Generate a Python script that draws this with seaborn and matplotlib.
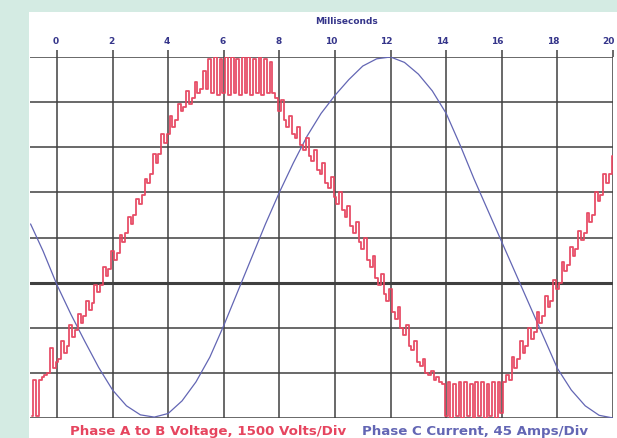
"""
plot.py - scope capture: phase A-B voltage (PWM, red) and phase C current (blue).
"""

import matplotlib
matplotlib.use("Agg")
import matplotlib.pyplot as plt
import matplotlib.transforms as mtransforms
import pandas as pd
import seaborn as sns

# ── Data (time in ms, amplitude in grid divisions from the bottom) ────────────

X_TICKS = [0, 2, 4, 6, 8, 10, 12, 14, 16, 18, 20]
Y_LINES = [0, 1, 2, 3, 4, 5, 6, 7, 8]
THICK_LINE = 3

current_t = [-0.95, -0.5, 0.0, 0.5, 1.0, 1.5, 2.0, 2.5, 3.0, 3.5, 4.0, 4.5,
             5.0, 5.5, 6.0, 6.5, 7.0, 7.5, 8.0, 8.5, 9.0, 9.5, 10.0, 10.5,
             11.0, 11.5, 12.0, 12.5, 13.0, 13.5, 14.0, 14.5, 15.0, 15.5,
             16.0, 16.5, 17.0, 17.5, 18.0, 18.5, 19.0, 19.5, 20.0]
current_div = [4.3, 3.7, 2.95, 2.3, 1.7, 1.12, 0.62, 0.27, 0.07, 0.02, 0.1, 0.38,
               0.8, 1.35, 2.05, 2.8, 3.55, 4.3, 5.0, 5.65, 6.25, 6.75, 7.15, 7.5,
               7.8, 7.96, 8.0, 7.88, 7.62, 7.25, 6.75, 6.05, 5.3, 4.6,
               3.9, 3.2, 2.5, 1.8, 1.1, 0.62, 0.27, 0.06, 0.0]

voltage_t = [
    -0.9, -0.8, -0.7, -0.6, -0.5, -0.4, -0.3, -0.2, -0.1,
    0.0, 0.1, 0.2, 0.3, 0.4, 0.5, 0.6, 0.7, 0.8, 0.9,
    1.0, 1.1, 1.2, 1.3, 1.4, 1.5, 1.6, 1.7, 1.8, 1.9,
    2.0, 2.1, 2.2, 2.3, 2.4, 2.5, 2.6, 2.7, 2.8, 2.9,
    3.0, 3.1, 3.2, 3.3, 3.4, 3.5, 3.6, 3.7, 3.8, 3.9,
    4.0, 4.1, 4.2, 4.3, 4.4, 4.5, 4.6, 4.7, 4.8, 4.9,
    5.0, 5.1, 5.2, 5.3, 5.4, 5.5, 5.6, 5.7, 5.8, 5.9,
    6.0, 6.1, 6.2, 6.3, 6.4, 6.5, 6.6, 6.7, 6.8, 6.9,
    7.0, 7.1, 7.2, 7.3, 7.4, 7.5, 7.6, 7.7, 7.8, 7.9,
    8.0, 8.1, 8.2, 8.3, 8.4, 8.5, 8.6, 8.7, 8.8, 8.9,
    9.0, 9.1, 9.2, 9.3, 9.4, 9.5, 9.6, 9.7, 9.8, 9.9,
    10.0, 10.1, 10.2, 10.3, 10.4, 10.5, 10.6, 10.7, 10.8, 10.9,
    11.0, 11.1, 11.2, 11.3, 11.4, 11.5, 11.6, 11.7, 11.8, 11.9,
    12.0, 12.1, 12.2, 12.3, 12.4, 12.5, 12.6, 12.7, 12.8, 12.9,
    13.0, 13.1, 13.2, 13.3, 13.4, 13.5, 13.6, 13.7, 13.8, 13.9,
    14.0, 14.1, 14.2, 14.3, 14.4, 14.5, 14.6, 14.7, 14.8, 14.9,
    15.0, 15.1, 15.2, 15.3, 15.4, 15.5, 15.6, 15.7, 15.8, 15.9,
    16.0, 16.1, 16.2, 16.3, 16.4, 16.5, 16.6, 16.7, 16.8, 16.9,
    17.0, 17.1, 17.2, 17.3, 17.4, 17.5, 17.6, 17.7, 17.8, 17.9,
    18.0, 18.1, 18.2, 18.3, 18.4, 18.5, 18.6, 18.7, 18.8, 18.9,
    19.0, 19.1, 19.2, 19.3, 19.4, 19.5, 19.6, 19.7, 19.8, 19.9,
    20.0,
]
voltage_div = [
    0.05, 0.85, 0.05, 0.85, 0.9, 0.95, 1.0, 1.55, 1.1,
    1.25, 1.3, 1.7, 1.45, 1.6, 2.05, 1.8, 1.95, 2.3, 2.1,
    2.25, 2.6, 2.4, 2.55, 2.95, 2.8, 2.95, 3.35, 3.15, 3.3,
    3.7, 3.5, 3.65, 4.05, 3.9, 4.1, 4.45, 4.3, 4.5, 4.85,
    4.75, 4.95, 5.3, 5.2, 5.4, 5.85, 5.65, 5.85, 6.3, 6.1,
    6.3, 6.7, 6.45, 6.6, 6.95, 6.8, 6.9, 7.25, 6.95, 7.1,
    7.45, 7.2, 7.3, 7.7, 7.3, 7.95, 7.2, 8.0, 7.15, 7.95,
    7.2, 8.0, 7.15, 8.0, 7.2, 7.95, 7.15, 8.0, 7.2, 8.0,
    7.15, 7.95, 7.2, 8.0, 7.15, 7.95, 7.2, 7.9, 7.2, 7.1,
    6.8, 7.05, 6.6, 6.45, 6.7, 6.3, 6.2, 6.45, 6.05, 5.95,
    6.2, 5.8, 5.7, 5.95, 5.5, 5.4, 5.65, 5.2, 5.1, 5.35,
    4.9, 4.75, 5.0, 4.6, 4.45, 4.7, 4.25, 4.1, 4.35, 3.9,
    3.75, 4.0, 3.5, 3.35, 3.6, 3.1, 2.95, 3.2, 2.75, 2.6,
    2.85, 2.35, 2.2, 2.45, 2.0, 1.85, 2.05, 1.6, 1.5, 1.7,
    1.25, 1.15, 1.3, 1.0, 0.95, 1.05, 0.85, 0.9, 0.8, 0.75,
    0.05, 0.8, 0.0, 0.75, 0.05, 0.8, 0.0, 0.8, 0.05, 0.75,
    0.0, 0.8, 0.05, 0.8, 0.0, 0.75, 0.05, 0.8, 0.0, 0.8,
    0.1, 0.8, 0.95, 0.85, 1.35, 1.1, 1.3, 1.7, 1.45, 1.6,
    2.0, 1.75, 1.9, 2.35, 2.1, 2.25, 2.7, 2.45, 2.6, 3.05,
    2.85, 3.0, 3.45, 3.25, 3.4, 3.8, 3.6, 3.75, 4.15, 3.95,
    4.1, 4.55, 4.35, 4.5, 5.0, 4.8, 4.95, 5.4, 5.2, 5.4,
    5.8,
]

VOLT_LABEL = "Phase A to B Voltage, 1500 Volts/Div"
AMP_LABEL = "Phase C Current, 45 Amps/Div"

# ── Style ─────────────────────────────────────────────────────────────────────

RED = "#e6455f"
BLUE = "#6366b4"
NAVY = "#35358a"
GRID = "#404040"
BG = "#d4ebe3"

sns.set_style("white")
plt.rcParams["font.family"] = ["DejaVu Sans"]

W, H = 617, 438
fig = plt.figure(figsize=(W / 100, H / 100), dpi=100, facecolor=BG)

# white panel behind the scope area
panel = fig.add_axes([29 / W, 0, 1 - 29 / W, 1 - 12 / H], zorder=0)
panel.set_axis_off()
panel.add_patch(plt.Rectangle((0, 0), 1, 1, transform=panel.transAxes,
                              facecolor="white", edgecolor="none"))

ax = fig.add_axes([30 / W, (H - 418) / H, 583 / W, 361 / H], zorder=1)
ax.set_facecolor("none")
for s in ax.spines.values():
    s.set_visible(False)

# grid
for y in Y_LINES:
    ax.axhline(y, color=GRID, lw=2.2 if y == THICK_LINE else 1.1, zorder=1)
for x in X_TICKS:
    ax.axvline(x, color=GRID, lw=1.1, zorder=1)

volt = pd.DataFrame({"t": voltage_t, "v": voltage_div})
amp = pd.DataFrame({"t": current_t, "v": current_div})

sns.lineplot(data=volt, x="t", y="v", ax=ax, color=RED, lw=1.3, alpha=0.95,
             estimator=None, sort=False, drawstyle="steps-mid", zorder=3)
sns.lineplot(data=amp, x="t", y="v", ax=ax, color=BLUE, lw=0.9,
             estimator=None, sort=False, zorder=2)

ax.set_xlim(-0.97, 20.0)
ax.set_ylim(0, 8)
ax.set_xlabel("")
ax.set_ylabel("")
ax.set_yticks([])

ax.xaxis.tick_top()
ax.set_xticks(X_TICKS)
ax.set_xticklabels([str(v) for v in X_TICKS])
ax.tick_params(axis="x", top=True, bottom=False, direction="out", length=5,
               width=1.1, color=GRID, pad=3, labelsize=6.5, labelcolor=NAVY)
shift = mtransforms.ScaledTranslation(2 / 100, 0, fig.dpi_scale_trans)
for lbl in ax.get_xticklabels():
    lbl.set_fontweight("bold")
    lbl.set_horizontalalignment("right")
    lbl.set_transform(lbl.get_transform() + shift)

fig.text(347 / W, 1 - 21 / H, "Milliseconds", ha="center", va="center",
         fontsize=6.5, fontweight="bold", color=NAVY)

fig.text(70 / W, 1 - 431 / H, VOLT_LABEL, ha="left", va="center",
         fontsize=9.6, fontweight="bold", color=RED)
fig.text(362 / W, 1 - 431 / H, AMP_LABEL, ha="left", va="center",
         fontsize=9.6, fontweight="bold", color=BLUE)

fig.savefig("out.png", dpi=100, facecolor=BG)
